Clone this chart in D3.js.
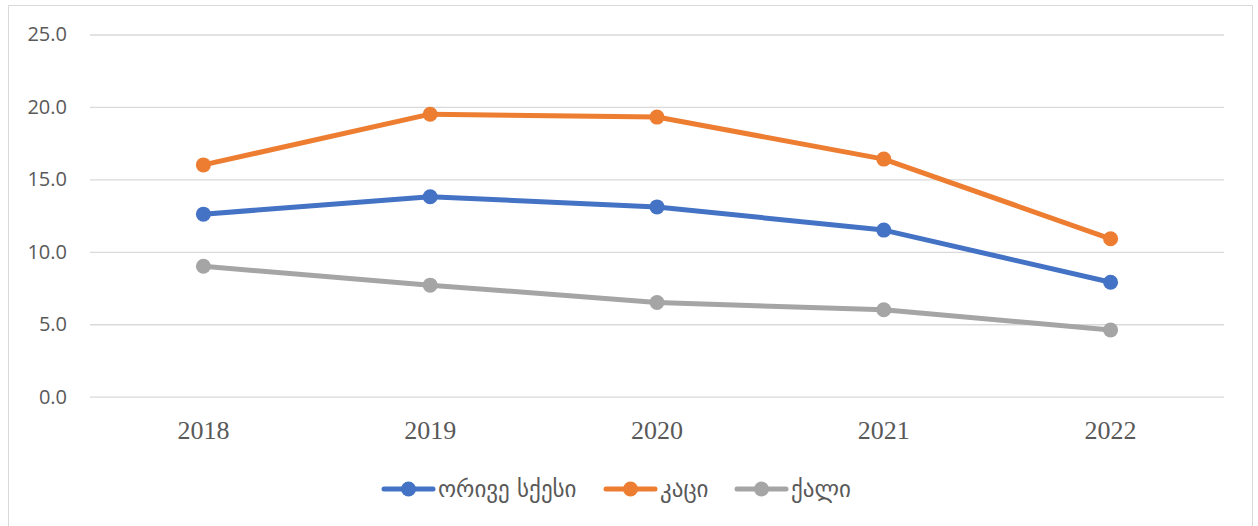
<!DOCTYPE html>
<html>
<head>
<meta charset="utf-8">
<script src="https://cdn.jsdelivr.net/npm/d3@7"></script>
<style>
  html, body { margin: 0; padding: 0; background: #fff; }
  svg { display: block; }
</style>
</head>
<body>
<svg id="chart" width="1258" height="526"></svg>
<script>
// Years on the category axis
const years = ["2018", "2019", "2020", "2021", "2022"];
// Series values, one per year
const bothSexes = [12.6, 13.8, 13.1, 11.5, 7.9];
const men = [16.0, 19.5, 19.3, 16.4, 10.9];
const women = [9.0, 7.7, 6.5, 6.0, 4.6];
// Value-axis ticks
const yTicks = [0, 5, 10, 15, 20, 25];
// Series names as shown in the legend
const seriesNames = ["ორივე სქესი", "კაცი", "ქალი"];
const seriesColors = ["#4472C4", "#ED7D31", "#A5A5A5"];

const series = [bothSexes, men, women].map((vals, i) => ({
  name: seriesNames[i],
  color: seriesColors[i],
  values: vals.map((v, j) => ({ year: years[j], value: v }))
}));

const svg = d3.select("#chart");

// Outer frame
svg.append("rect")
  .attr("x", 8.5).attr("y", 5.5)
  .attr("width", 1244).attr("height", 530)
  .attr("fill", "#fff")
  .attr("stroke", "#d9d9d9").attr("stroke-width", 1);

const plot = { left: 90, right: 1224, top: 34.5, bottom: 396.7 };

const x = d3.scaleBand().domain(years).range([plot.left, plot.right]);
const y = d3.scaleLinear().domain([0, 25]).range([plot.bottom, plot.top]);

// Horizontal gridlines with value labels
const yAxis = d3.axisLeft(y)
  .tickValues(yTicks)
  .tickSize(-(plot.right - plot.left))
  .tickPadding(23)
  .tickFormat(d3.format(".1f"));

const gy = svg.append("g")
  .attr("transform", `translate(${plot.left},0)`)
  .call(yAxis);
gy.select(".domain").remove();
gy.selectAll(".tick line").attr("stroke", "#d9d9d9").attr("stroke-width", 1.3);
gy.selectAll(".tick text")
  .attr("fill", "#595959")
  .attr("font-family", "'Open Sans', 'Liberation Sans', sans-serif")
  .attr("font-size", 20);

// Category labels
const xAxis = d3.axisBottom(x).tickSize(0).tickPadding(24);
const gx = svg.append("g")
  .attr("transform", `translate(0,${plot.bottom})`)
  .call(xAxis);
gx.select(".domain").remove();
gx.selectAll(".tick text")
  .attr("fill", "#595959")
  .attr("font-family", "'Liberation Serif', 'DejaVu Serif', serif")
  .attr("font-size", 26);

const line = d3.line()
  .x(d => x(d.year) + x.bandwidth() / 2)
  .y(d => y(d.value));

const sg = svg.append("g").selectAll("g").data(series).join("g");

sg.append("path")
  .attr("d", d => line(d.values))
  .attr("fill", "none")
  .attr("stroke", d => d.color)
  .attr("stroke-width", 5)
  .attr("stroke-linejoin", "round")
  .attr("stroke-linecap", "round");

sg.selectAll("circle")
  .data(d => d.values.map(v => ({ ...v, color: d.color })))
  .join("circle")
  .attr("cx", d => x(d.year) + x.bandwidth() / 2)
  .attr("cy", d => y(d.value))
  .attr("r", 7.5)
  .attr("fill", d => d.color);

// Legend
const legendY = 489;
const legendX = [382, 604, 735];
const lg = svg.append("g").selectAll("g").data(series).join("g")
  .attr("transform", (d, i) => `translate(${legendX[i]},${legendY})`);

lg.append("line")
  .attr("x1", 2).attr("x2", 51)
  .attr("stroke", d => d.color)
  .attr("stroke-width", 5)
  .attr("stroke-linecap", "round");
lg.append("circle")
  .attr("cx", 26.5).attr("r", 7.5)
  .attr("fill", d => d.color);
lg.append("text")
  .attr("x", 56).attr("y", 0)
  .attr("dy", "0.35em")
  .attr("fill", "#595959")
  .attr("font-family", "'DejaVu Sans', 'Noto Sans', sans-serif")
  .attr("font-size", 23)
  .text(d => d.name);
</script>
</body>
</html>
